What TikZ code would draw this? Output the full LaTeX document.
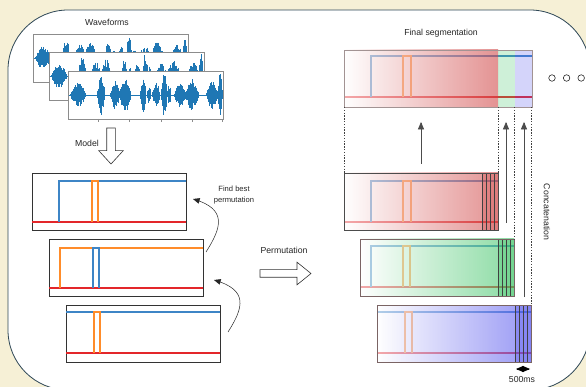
\documentclass[tikz,border=0pt]{standalone}
\usepackage{fontspec}
\setmainfont{Liberation Sans}
\usetikzlibrary{positioning,arrows,shapes,calc}

\definecolor{cream}{HTML}{F6F0D6}
\definecolor{framecol}{HTML}{2E4756}
\definecolor{wblue}{HTML}{1F77B4}
\definecolor{sblue}{HTML}{3D85C6}
\definecolor{sorange}{HTML}{FF8C2A}
\definecolor{sred}{HTML}{E3262A}
\definecolor{segred}{HTML}{D24B4B}
\definecolor{seggreen}{HTML}{3EC466}
\definecolor{segblue}{HTML}{5555EE}
\definecolor{boxbrown}{HTML}{7A6464}

\tikzset{
  panel/.style={draw=framecol, line width=0.8pt, fill=white, rounded corners=60pt},
  lbl/.style={font=\fontsize{8.7}{10}\selectfont, text=black!85, inner sep=0pt},
  smalllbl/.style={font=\fontsize{7.6}{11}\selectfont, text=black!85, align=center, inner sep=0pt},
  wavebox/.style={draw=black!45, line width=0.8pt, fill=white, anchor=north west,
    minimum width=155pt, minimum height=48pt, inner sep=0pt, outer sep=0pt},
  wave/.style={draw=wblue, line width=0.75pt},
  segbox/.style={draw=black!80, line width=0.7pt, anchor=north west,
    minimum width=154pt, minimum height=57pt, inner sep=0pt, outer sep=0pt},
  bline/.style={draw=sblue, line width=1.1pt},
  oline/.style={draw=sorange, line width=1.1pt},
  rline/.style={draw=sred, line width=1.1pt},
  stripe/.style={draw=black!75, line width=0.6pt},
  hollowarrow/.style={single arrow, draw=black!80, fill=white, line width=0.6pt,
    inner xsep=0pt, outer sep=0pt},
  dashline/.style={draw=black!75, line width=0.6pt, dash pattern=on 1.5pt off 1.3pt},
  uparrow/.style={draw=black!70, line width=0.7pt, -triangle 45},
  bendarrow/.style={draw=black!85, line width=0.5pt, -triangle 45},
  dotc/.style={circle, draw=black!85, line width=0.6pt, minimum size=6.5pt, inner sep=0pt}
}

% bursts: centre/half width/amplitude
\newcommand{\wavebursts}{10/8/12,33/4/20,47/5/15,57/6/17,75/3/17,81/2/9,88/4/12,96/3/22,101/2/10,112/6/12,124/7/16,144/6/14,152/2.5/22}
\newcommand{\drawwave}[2]{%
  \pgfmathsetseed{#2}
  \begin{scope}[shift={(#1.west)}]
    \draw[wave, line width=0.6pt] (1,0) -- (154,0);
    \foreach \bc/\bw/\ba in \wavebursts {
      \pgfmathtruncatemacro\nk{4*\bw}
      \foreach \k in {0,...,\nk} {
        \pgfmathsetmacro\xx{\bc-\bw+\k/2}
        \pgfmathsetmacro\env{1-((\xx-\bc)/\bw)*((\xx-\bc)/\bw)}
        \pgfmathsetmacro\hu{\ba*\env*(0.5+0.5*rnd)}
        \pgfmathsetmacro\hd{\ba*\env*(0.5+0.5*rnd)}
        \draw[wave] (\xx,-\hu) -- (\xx,\hd);
      }
    }
  \end{scope}}

\begin{document}
\begin{tikzpicture}[x=1pt, y=-1pt]
  \useasboundingbox (0,0) rectangle (586,387);
  \fill[cream] (0,0) rectangle (586,387);
  \draw[panel] (8,10) rectangle (590,390);

  % waveforms
  \node[lbl] (wlabel) at (107,22) {Waveforms};
  \node[wavebox] (w1) at (33,34) {};
  \drawwave{w1}{11}
  \node[wavebox] (w2) at (49,52) {};
  \drawwave{w2}{23}
  \node[wavebox] (w3) at (68,71) {};
  \drawwave{w3}{7}
  \foreach \tx in {30,61,93,124,154}
    \draw[black!45, line width=0.6pt] ($(w3.south west)+(\tx,0)$) -- ++(0,3);
  \draw[black!45, line width=0.6pt] ($(w3.west)+(0,5)$) -- ++(-3,0);

  \node[lbl] (mlabel) at (87,143) {Model};
  \node[hollowarrow, minimum height=36pt, inner ysep=4pt, single arrow head extend=8pt,
    single arrow tip angle=85, rotate=-90, anchor=tail] (model) at (111,128) {};

  % model outputs
  \node[segbox] (sA) at (32,173) {};
  \begin{scope}[shift={(sA.north west)}]
    \draw[rline] (0,49) -- (154,49);
    \draw[bline] (27,49) -- (27,8) -- (154,8);
    \draw[oline] (60,49) -- (60,8) -- (66,8) -- (66,49);
  \end{scope}
  \node[segbox] (sB) at (49,239) {};
  \begin{scope}[shift={(sB.north west)}]
    \draw[rline] (0,49) -- (154,49);
    \draw[oline] (11,49) -- (11,9) -- (154,9);
    \draw[bline] (44,49) -- (44,9) -- (50,9) -- (50,49);
  \end{scope}
  \node[segbox] (sC) at (66,305) {};
  \begin{scope}[shift={(sC.north west)}]
    \draw[rline] (0,48) -- (154,48);
    \draw[bline] (0,7) -- (154,7);
    \draw[oline] (28,48) -- (28,7) -- (34,7) -- (34,48);
  \end{scope}

  \draw[bendarrow] ($(sB.north east)+(3,13)$) .. controls +(16,-25) and +(34,10) .. ($(sA.north east)+(7,26)$);
  \draw[bendarrow] ($(sC.north east)+(8,27)$) .. controls +(16,-25) and +(34,10) .. ($(sB.north east)+(11,41)$);
  \node[smalllbl] (fbp) at (234,195) {Find best\\permutation};

  \node[lbl] (plabel) at (284,250) {Permutation};
  \node[hollowarrow, minimum height=51pt, inner ysep=3.5pt, single arrow head extend=7.5pt,
    single arrow tip angle=78, anchor=tail] (perm) at (260,273.5) {};

  % permuted outputs
  \node[segbox, draw=none] (rR) at (344,173) {};
  \begin{scope}[shift={(rR.north west)}]
    \draw[rline] (0,49) -- (154,49);
    \draw[bline] (27,49) -- (27,8) -- (154,8);
    \draw[oline] (59,49) -- (59,8) -- (67,8) -- (67,49);
    \shade[left color=white, right color=segred, opacity=0.6] (0,0) rectangle (154,57);
    \fill[segred, fill opacity=0.3] (138,0) rectangle (154,57);
    \foreach \sx in {138,142,...,154} \draw[stripe] (\sx,0) -- (\sx,57);
  \end{scope}
  \draw[black!70, line width=0.7pt] (rR.north west) rectangle (rR.south east);

  \node[segbox, draw=none] (rG) at (360,239) {};
  \begin{scope}[shift={(rG.north west)}]
    \draw[rline] (0,48) -- (154,48);
    \draw[bline] (11,48) -- (11,7) -- (154,7);
    \draw[oline] (43,48) -- (43,7) -- (50,7) -- (50,48);
    \shade[left color=white, right color=seggreen, opacity=0.6] (0,0) rectangle (154,57);
    \fill[seggreen, fill opacity=0.3] (138,0) rectangle (154,57);
    \foreach \sx in {138,142,...,154} \draw[stripe] (\sx,0) -- (\sx,57);
  \end{scope}
  \draw[boxbrown, line width=0.7pt] (rG.north west) rectangle (rG.south east);

  \node[segbox, draw=none] (rB) at (377,305) {};
  \begin{scope}[shift={(rB.north west)}]
    \draw[rline] (0,48) -- (154,48);
    \draw[bline] (0,7) -- (154,7);
    \draw[oline] (28,48) -- (28,7) -- (35,7) -- (35,48);
    \shade[left color=white, right color=segblue, opacity=0.6] (0,0) rectangle (154,57);
    \fill[segblue, fill opacity=0.3] (138,0) rectangle (154,57);
    \foreach \sx in {138,142,...,154} \draw[stripe] (\sx,0) -- (\sx,57);
  \end{scope}
  \draw[boxbrown, line width=0.7pt] (rB.north west) rectangle (rB.south east);

  % final segmentation
  \node[lbl] (flabel) at (441,33) {Final segmentation};
  \node[segbox, draw=none, minimum width=188pt] (fin) at (344,50) {};
  \begin{scope}[shift={(fin.north west)}]
    \draw[rline] (0,47) -- (188,47);
    \draw[bline] (27,47) -- (27,6) -- (188,6);
    \draw[oline] (59,47) -- (59,6) -- (67,6) -- (67,47);
    \shade[left color=white, right color=segred, opacity=0.6] (0,0) rectangle (154,57);
    \fill[seggreen, fill opacity=0.25] (154,0) rectangle (171,57);
    \fill[segblue, fill opacity=0.25] (171,0) rectangle (188,57);
  \end{scope}
  \draw[boxbrown!70, line width=0.7pt] (fin.north west) rectangle (fin.south east);

  \draw[dashline] (rR.north west |- fin.south) -- (rR.north west);
  \draw[dashline] (rR.north east |- fin.south) -- (rR.north east);
  \draw[dashline] (rG.north east |- fin.south) -- (rG.north east);
  \draw[dashline] (rB.north east |- fin.south) -- (rB.north east);

  \draw[uparrow] ($(rR.north)+(0,-9)$) -- ($(rR.north |- fin.south)+(0,15)$);
  \draw[uparrow] ($(rG.north east)+(-8,-16)$) -- ($(rG.north east |- fin.south)+(-8,15)$);
  \draw[uparrow] ($(rB.north east)+(-7,-8)$) -- ($(rB.north east |- fin.south)+(-7,15)$);

  \node[lbl, rotate=-90] (clabel) at (547,212) {Concatenation};

  \draw[draw=black, line width=0.7pt, triangle 45-triangle 45] ($(rB.south east)+(-15,7)$) -- ($(rB.south east)+(-1,7)$);
  \node[lbl] (mslabel) at (522,380) {500ms};

  \node[dotc] (c1) at (552,78) {};
  \node[dotc, right=7.5pt of c1] (c2) {};
  \node[dotc, right=7.5pt of c2] (c3) {};
\end{tikzpicture}
\end{document}
